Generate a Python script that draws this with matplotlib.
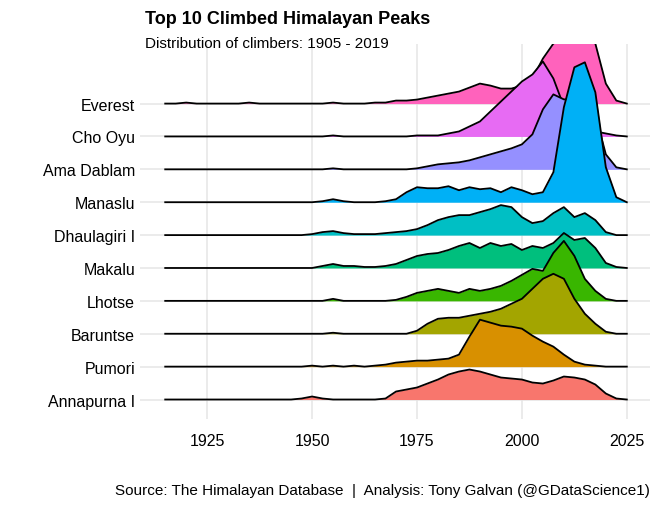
import matplotlib.pyplot as plt
import numpy as np

plt.rcParams['font.family'] = ['Liberation Sans', 'DejaVu Sans']

years = np.arange(1915, 2025.1, 2.5)

peaks = ['Annapurna I', 'Pumori', 'Baruntse', 'Lhotse', 'Makalu',
         'Dhaulagiri I', 'Manaslu', 'Ama Dablam', 'Cho Oyu', 'Everest']
colors = ['#F8766D', '#D89000', '#A3A500', '#39B600', '#00BF7D',
          '#00BFC4', '#00B0F6', '#9590FF', '#E76BF3', '#FF62BC']

# ridge heights (pixels above baseline), 1915..2025 every 2.5 yrs
annapurna = [0,0,0,0,0,0,0,0,0,0,0,0,0,1,3,1,0,0,0,0,0,1,8,10,12,16,20,25,28,30,28,25,22,21,20,17,16,19,23,22,20,15,6,1,0]
pumori = [0]*14 + [1,0,1,0,1,0,1,2,4,5,6,6,7,8,12,30,47,44,41,40,38,31,25,20,12,5,2,1,0,0,0]
baruntse = [0]*16 + [1,0,0,0,0,0,0,0,3,10,15,16,16,18,20,22,25,30,35,45,55,60,55,35,20,10,2,0,0]
lhotse = [0]*16 + [2,0,0,0,0,0,1,4,8,10,12,10,8,12,10,12,15,20,26,32,30,48,60,45,22,10,2,0,0]
makalu = [0]*15 + [2,4,2,2,1,1,2,4,8,12,14,15,18,22,25,20,25,22,24,18,22,20,25,35,28,30,20,5,1,0]
dhaulagiri = [0]*14 + [1,3,4,2,1,1,1,2,3,4,6,10,15,18,20,20,23,26,30,28,18,12,14,22,28,18,22,15,3,0,0]
manaslu = [0]*15 + [1,3,1,0,0,0,1,3,10,15,14,14,16,12,15,13,14,10,15,12,8,10,30,95,135,140,110,35,5,0]
ama_dablam = [0]*16 + [1,0,0,0,0,0,0,0,1,3,5,6,7,9,12,15,18,21,25,35,60,75,70,70,75,55,15,2,0]
cho_oyu = [0]*16 + [1,0,0,0,0,0,0,0,1,1,1,3,5,10,15,25,35,45,55,62,75,58,30,15,8,5,3,1,0]
everest = [0,0,1,0,0,0,0,0,1,0,0,0,0,0,0,0,1,0,0,0,1,1,3,3,4,6,8,10,12,16,20,18,15,15,18,25,45,60,65,68,70,60,20,3,0]

heights = [annapurna, pumori, baruntse, lhotse, makalu,
           dhaulagiri, manaslu, ama_dablam, cho_oyu, everest]

px = 32.9  # pixels per ridge spacing

fig = plt.figure(figsize=(6.7, 5.1), dpi=100)
ax = fig.add_axes([0.209, 0.176, 0.761, 0.735])

for i in range(9, -1, -1):
    h = np.array(heights[i]) / px + i
    z = 10 + (9 - i) * 2
    ax.fill_between(years, i, h, color=colors[i], zorder=z, lw=0)
    ax.plot(years, h, color='black', lw=1.3, zorder=z + 1)

ax.set_xlim(1909, 2030.5)
ax.set_ylim(-0.6, 10.8)
ax.set_xticks([1925, 1950, 1975, 2000, 2025])
ax.set_yticks(range(10))
ax.set_yticklabels(peaks)
ax.tick_params(length=0, labelsize=11.5, colors='black')
ax.tick_params(axis='x', pad=10)
ax.grid(True, color='#e5e5e5', lw=1.1, zorder=0)
for s in ax.spines.values():
    s.set_visible(False)

fig.text(145/670, 1 - 20/510, 'Top 10 Climbed Himalayan Peaks', fontsize=13,
         fontweight='bold', va='center')
fig.text(145/670, 1 - 44/510, 'Distribution of climbers: 1905 - 2019',
         fontsize=11, va='center')
fig.text(650/670, 1 - 491/510,
         'Source: The Himalayan Database  |  Analysis: Tony Galvan (@GDataScience1)',
         fontsize=11, ha='right', va='center')

fig.savefig('out.png', dpi=100)
